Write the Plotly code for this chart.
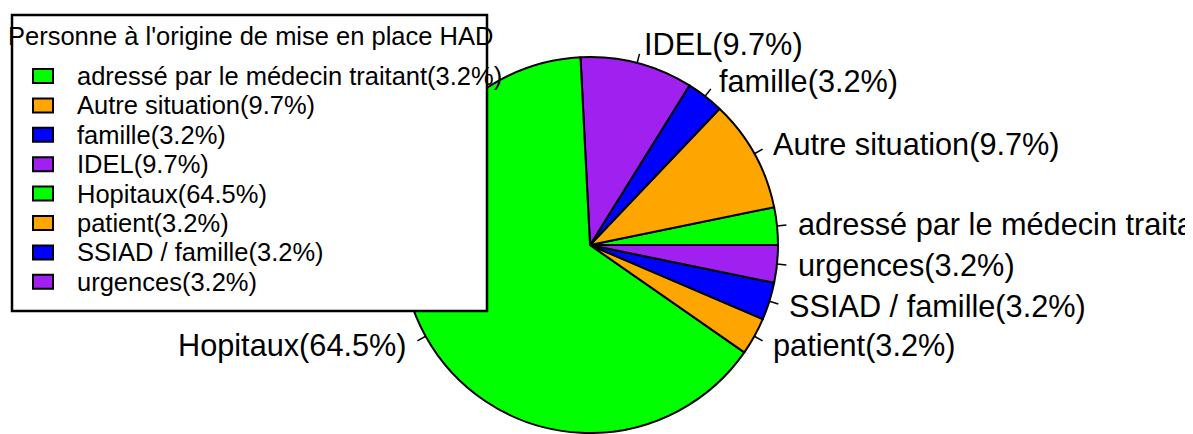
import math
import plotly.graph_objects as go

# data
labels = ["adressé par le médecin traitant", "Autre situation", "famille", "IDEL",
          "Hopitaux", "patient", "SSIAD / famille", "urgences"]
counts = [1, 3, 1, 3, 20, 1, 1, 1]
colors = ["#00FF00", "#FFA500", "#0000FF", "#A020F0",
          "#00FF00", "#FFA500", "#0000FF", "#A020F0"]
legend_title = "Personne à l'origine de mise en place HAD"

total = sum(counts)
texts = [f"{lab}({round(c / total * 100, 1)}%)" for lab, c in zip(labels, counts)]

# the page body has an 8px margin, so the figure is shrunk and the axes work in window pixels
W, H, OFF = 1193, 434, 8
FW, FH = W - OFF, H - OFF
cx, cy, r = 590, 245, 188  # pie centre / radius in window pixels
font = "Liberation Sans, Arial, sans-serif"

fig = go.Figure()
fig.add_trace(go.Pie(
    values=counts, labels=texts, sort=False, direction="counterclockwise",
    rotation=90 - 360 * counts[0] / total,  # first slice starts at 3 o'clock
    marker=dict(colors=colors, line=dict(color="black", width=2)),
    textinfo="none", hoverinfo="label", showlegend=False,
    domain=dict(x=[(cx - r - OFF) / FW, (cx + r - OFF) / FW],
                y=[1 - (cy + r - OFF) / FH, 1 - (cy - r - OFF) / FH]),
))

# leader lines + outside labels (R pie style)
lx, ly = [], []
annotations = []
cum = 0
for t, c in zip(texts, counts):
    a = math.radians((cum + c / 2) / total * 360)
    cum += c
    ca, sa = math.cos(a), math.sin(a)
    lx += [cx + r * ca, cx + 1.05 * r * ca, None]
    ly += [cy - r * sa, cy - 1.05 * r * sa, None]
    annotations.append(dict(
        x=cx + 1.1 * r * ca, y=cy - 1.1 * r * sa, xref="x", yref="y", text=t,
        showarrow=False, xanchor="left" if ca > 0 else "right", yanchor="middle",
        font=dict(family=font, size=30.7, color="black")))
fig.add_trace(go.Scatter(x=lx, y=ly, mode="lines", line=dict(color="black", width=1.5),
                         hoverinfo="skip", showlegend=False))

# legend box drawn by hand
shapes = [dict(type="rect", xref="x", yref="y", x0=12, x1=487, y0=15, y1=311,
               fillcolor="white", line=dict(color="black", width=2.5), layer="above")]
annotations.append(dict(x=250, y=36, xref="x", yref="y", text=legend_title, showarrow=False,
                        xanchor="center", yanchor="middle",
                        font=dict(family=font, size=25.5, color="black")))
for i, (t, col) in enumerate(zip(texts, colors)):
    yy = 76 + i * 29.4
    shapes.append(dict(type="rect", xref="x", yref="y", x0=33, x1=53, y0=yy - 7, y1=yy + 7,
                       fillcolor=col, line=dict(color="black", width=2), layer="above"))
    annotations.append(dict(x=75, y=yy, xref="x", yref="y", text=t, showarrow=False,
                            xanchor="left", yanchor="middle",
                            font=dict(family=font, size=25.5, color="black")))

fig.update_layout(
    width=FW, height=FH, margin=dict(l=0, r=0, t=0, b=0),
    paper_bgcolor="white", plot_bgcolor="rgba(0,0,0,0)",
    xaxis=dict(range=[OFF, W], visible=False, fixedrange=True),
    yaxis=dict(range=[H, OFF], visible=False, fixedrange=True),
    shapes=shapes, annotations=annotations,
)

fig.write_html("out.html")
